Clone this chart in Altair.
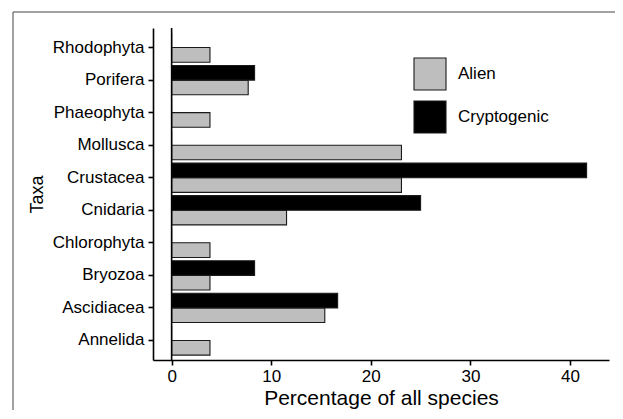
import altair as alt
import pandas as pd

# Data (percentage of all species per taxon)
taxa = ["Rhodophyta", "Porifera", "Phaeophyta", "Mollusca", "Crustacea",
        "Cnidaria", "Chlorophyta", "Bryozoa", "Ascidiacea", "Annelida"]
alien = [3.85, 7.69, 3.85, 23.08, 23.08, 11.54, 3.85, 3.85, 15.38, 3.85]
cryptogenic = [0.0, 8.33, 0.0, 0.0, 41.67, 25.0, 0.0, 8.33, 16.67, 0.0]
groups = ["Alien", "Cryptogenic"]
group_colors = ["#bebebe", "#000000"]
x_ticks = [0, 10, 20, 30, 40]
x_domain = [-1.87, 43.92]

rows = []
for t, a, c in zip(taxa, alien, cryptogenic):
    rows.append({"Taxa": t, "Status": "Alien", "Pct": a})
    rows.append({"Taxa": t, "Status": "Cryptogenic", "Pct": c})
df = pd.DataFrame(rows)

xscale = alt.Scale(domain=x_domain, nice=False, zero=False)

FONT = "Liberation Sans"

bars = alt.Chart(df).mark_bar(stroke="#1a1a1a", strokeWidth=1.1).encode(
    x=alt.X("Pct:Q", scale=xscale,
            axis=alt.Axis(values=x_ticks, title="Percentage of all species",
                          titleFontSize=21, labelPadding=3, titlePadding=3)),
    x2=alt.datum(0),
    y=alt.Y("Taxa:N", sort=taxa,
            scale=alt.Scale(paddingInner=0.1, paddingOuter=0.15),
            axis=alt.Axis(title="Taxa", titleFontSize=18, labelPadding=4,
                          titlePadding=6)),
    yOffset=alt.YOffset("Status:N", sort=["Cryptogenic", "Alien"],
                        scale=alt.Scale(paddingInner=0, paddingOuter=0)),
    fill=alt.Fill("Status:N", scale=alt.Scale(domain=groups, range=group_colors),
                  legend=alt.Legend(title=None, orient="none", legendX=260,
                                    legendY=29, symbolType="square",
                                    symbolSize=1024, symbolStrokeColor="#1a1a1a",
                                    symbolStrokeWidth=1.1, labelFontSize=17,
                                    labelOffset=11, rowPadding=5,
                                    labelFont=FONT, labelColor="black")),
)

zero_rule = alt.Chart(pd.DataFrame({"z": [0]})).mark_rule(
    color="black", strokeWidth=1.6).encode(x=alt.datum(0, scale=xscale))

one = pd.DataFrame({"z": [0]})
border_top = alt.Chart(one).mark_rule(color="#444444", strokeWidth=1, clip=False).encode(
    x=alt.value(-140), x2=alt.value(2000), y=alt.value(-16))
border_left = alt.Chart(one).mark_rule(color="#444444", strokeWidth=1, clip=False).encode(
    x=alt.value(-140), y=alt.value(-16), y2=alt.value(2000))

chart = alt.layer(bars, zero_rule, border_top, border_left).properties(
    width=456, height=332,
    autosize=alt.AutoSizeParams(type="none"),
    padding={"left": 145, "top": 20, "right": 6, "bottom": 50},
    background="white",
).configure_view(strokeWidth=0).configure_axis(
    domainColor="black", domainWidth=1.6, tickColor="black", tickWidth=1.6,
    tickSize=5, labelColor="black", labelFontSize=17, labelFont=FONT,
    titleFont=FONT, titleFontWeight="normal", titleColor="black", grid=False,
)

chart.save("out.html", embed_options={"renderer": "svg", "actions": False})
